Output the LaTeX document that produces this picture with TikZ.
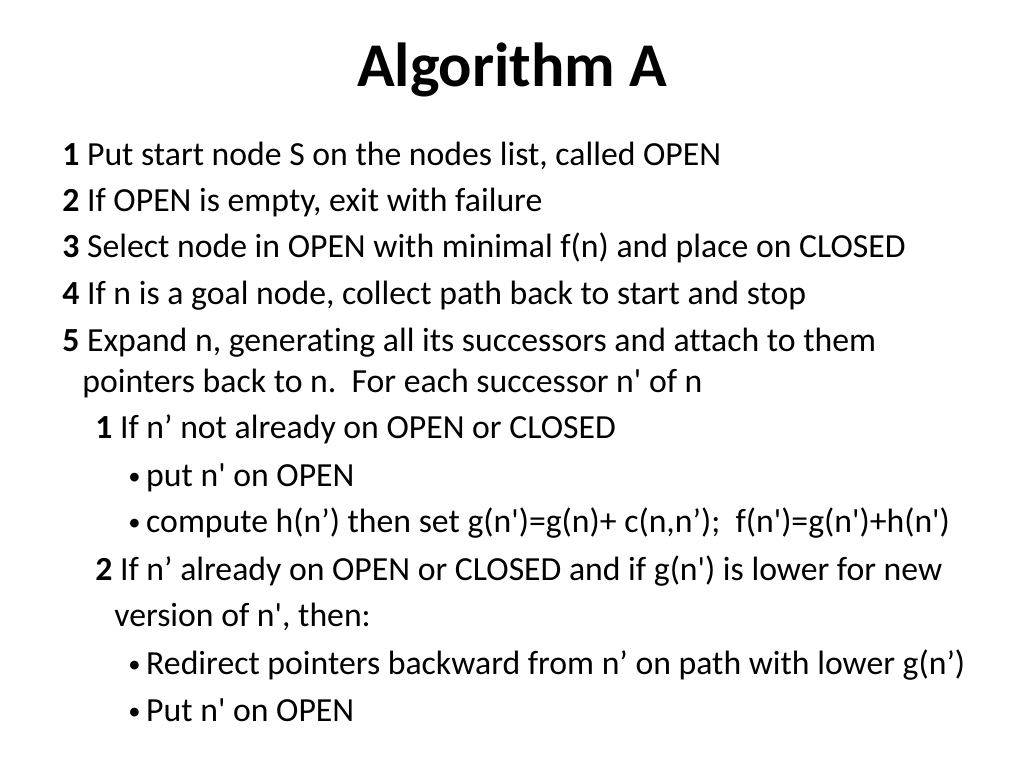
\documentclass[tikz,border=0pt]{standalone}
\usepackage{fontspec}
\setmainfont{Carlito}[Ligatures={NoCommon}]
\usepackage{tikz}
\newcommand{\sq}{\textquotesingle}
\newcommand{\bul}{{\fontsize{14}{14}\selectfont\raisebox{0.15ex}{\textbullet}}\,}

\begin{document}
\begin{tikzpicture}[x=0.02cm,y=0.02cm,
    txt/.style={anchor=base west,inner sep=0pt,font=\fontsize{19.2}{22}\selectfont}]
  \useasboundingbox (0,0) rectangle (1024,768);

  % title
  \node[anchor=base,inner sep=0pt,font=\fontsize{35.4}{40}\selectfont\bfseries] (title) at (512,681) {Algorithm A};

  % main steps
  \node[txt] (s1) at (62,602) {\textbf{1} Put start node S on the nodes list, called OPEN};
  \node[txt] (s2) at (62,556) {\textbf{2} If OPEN is empty, exit with failure};
  \node[txt] (s3) at (62,510) {\textbf{3} Select node in OPEN with minimal f(n) and place on CLOSED};
  \node[txt] (s4) at (62,463) {\textbf{4} If n is a goal node, collect path back to start and stop};
  \node[txt] (s5) at (62,416) {\textbf{5} Expand n, generating all its successors and attach to them};
  \node[txt] (s5b) at (82,375) {pointers back to n.\ \ For each successor n\sq{} of n};

  % sub steps
  \node[txt] (a1) at (95,329) {\textbf{1} If n’ not already on OPEN or CLOSED};
  \node[txt] (a1x) at (128,282) {\bul put n\sq{} on OPEN};
  \node[txt] (a1y) at (128,236) {\bul compute h(n’) then set g(n\sq)=g(n)+ c(n,n’);\ \ f(n\sq)=g(n\sq)+h(n\sq)};
  \node[txt] (a2) at (95,188) {\textbf{2} If n’ already on OPEN or CLOSED and if g(n\sq) is lower for new};
  \node[txt] (a2b) at (114,142) {version of n\sq, then:};
  \node[txt] (a2x) at (128,94) {\bul Redirect pointers backward from n’ on path with lower g(n’)};
  \node[txt] (a2y) at (128,47) {\bul Put n\sq{} on OPEN};
\end{tikzpicture}
\end{document}
